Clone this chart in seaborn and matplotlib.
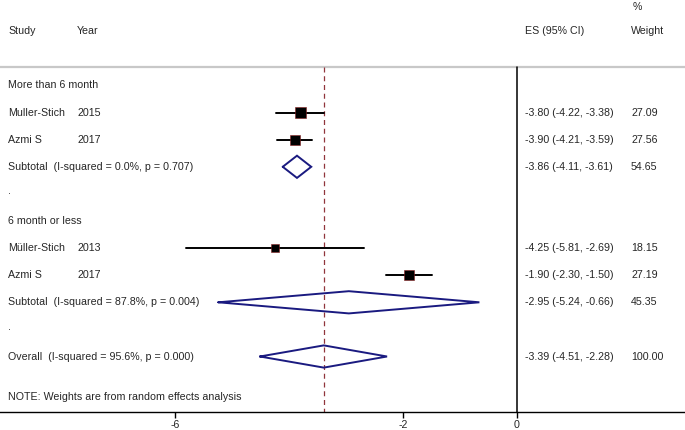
import numpy as np
import pandas as pd
import matplotlib
matplotlib.use("Agg")
import matplotlib.pyplot as plt
import matplotlib.transforms as mtransforms
import seaborn as sns

# Study-level data
study_names = ["Muller-Stich", "Azmi S", "Müller-Stich", "Azmi S"]
study_years = ["2015", "2017", "2013", "2017"]
study_es = [-3.80, -3.90, -4.25, -1.90]
study_lo = [-4.22, -4.21, -5.81, -2.30]
study_hi = [-3.38, -3.59, -2.69, -1.50]
study_weight = [27.09, 27.56, 18.15, 27.19]
study_rows = [1, 2, 6, 7]

# Pooled estimates (two subtotals + overall)
pooled_labels = ["Subtotal  (I-squared = 0.0%, p = 0.707)",
                 "Subtotal  (I-squared = 87.8%, p = 0.004)",
                 "Overall  (I-squared = 95.6%, p = 0.000)"]
pooled_es = [-3.86, -2.95, -3.39]
pooled_lo = [-4.11, -5.24, -4.51]
pooled_hi = [-3.61, -0.66, -2.28]
pooled_weight = [54.65, 45.35, 100.00]
pooled_rows = [3, 8, 10]

group_labels = ["More than 6 month", "6 month or less"]
group_rows = [0, 5]
dot_rows = [4, 9]

overall_es = -3.39
xticks = [-6, -2, 0]
note = "NOTE: Weights are from random effects analysis"

sns.set_style("white")
plt.rcParams['font.family'] = ['Liberation Sans', 'DejaVu Sans']
plt.rcParams['axes.unicode_minus'] = False
FS = 7.7

fig = plt.figure(figsize=(6.85, 4.3), dpi=100)
ax = fig.add_axes([0, 18 / 430, 1, 412 / 430])

# pixel mapping: x=0 at px 517, 57 px per unit; rows 27.1 px apart
ax.set_xlim((0 - 517) / 57, (685 - 517) / 57)
ax.set_ylim((412 - 85.5) / 27.1, (0 - 85.5) / 27.1)
line_row = (67 - 85.5) / 27.1
bottom_row = (412 - 85.5) / 27.1

navy = "#1a1a80"
maroon = "#90353b"

# header separator
ax.axhline(line_row, color="#c8c8c8", lw=1.6, zorder=1)
# null line and overall effect line
ax.plot([0, 0], [line_row, bottom_row], color="black", lw=1.1, zorder=2)
ax.plot([overall_es, overall_es], [line_row, bottom_row], color=maroon,
        lw=0.9, ls=(0, (4, 3)), zorder=2)

# confidence intervals
for lo, hi, r in zip(study_lo, study_hi, study_rows):
    ax.plot([lo, hi], [r, r], color="black", lw=1.4, zorder=3)

# weighted boxes
df = pd.DataFrame({"es": study_es, "row": study_rows, "weight": study_weight})
sns.scatterplot(data=df, x="es", y="row", size="weight",
                sizes={w: w * 2.0 for w in study_weight},
                marker="s", color="black", edgecolor="#8b2020",
                linewidth=0.4, legend=False, ax=ax, zorder=4)

# diamonds
h = 0.41
for es, lo, hi, r in zip(pooled_es, pooled_lo, pooled_hi, pooled_rows):
    ax.plot([lo, es, hi, es, lo], [r, r - h, r, r + h, r],
            color=navy, lw=1.4, zorder=4, solid_joinstyle="miter")

# text columns
tr = mtransforms.blended_transform_factory(ax.transAxes, ax.transData)
x_study, x_year, x_es, x_w = 8 / 685, 77 / 685, 525 / 685, 631 / 685
kw = dict(transform=tr, va="center", ha="left", fontsize=FS)

ax.text(x_study, -2, "Study", **kw)
ax.text(x_year, -2, "Year", **kw)
ax.text(x_es, -2, "ES (95% CI)", **kw)
ax.text(x_w, -2, "Weight", **kw)
ax.text(633 / 685, -2.9, "%", **kw)

for lab, r in zip(group_labels, group_rows):
    ax.text(x_study, r, lab, **kw)
for r in dot_rows:
    ax.text(x_study, r - 0.1, ".", **kw)

for name, yr, es, lo, hi, w, r in zip(study_names, study_years, study_es,
                                      study_lo, study_hi, study_weight, study_rows):
    ax.text(x_study, r, name, **kw)
    ax.text(x_year, r, yr, **kw)
    ax.text(x_es, r, f"{es:.2f} ({lo:.2f}, {hi:.2f})", **kw)
    ax.text(x_w, r, f"{w:.2f}", **kw)

for lab, es, lo, hi, w, r in zip(pooled_labels, pooled_es, pooled_lo,
                                 pooled_hi, pooled_weight, pooled_rows):
    ax.text(x_study, r, lab, **kw)
    ax.text(x_es, r, f"{es:.2f} ({lo:.2f}, {hi:.2f})", **kw)
    ax.text(x_w, r, f"{w:.2f}", **kw)

ax.text(x_study, 11.5, note, **kw)

# axis
for s in ["top", "left", "right"]:
    ax.spines[s].set_visible(False)
ax.spines["bottom"].set_color("black")
ax.spines["bottom"].set_linewidth(1.0)
ax.set_xticks(xticks)
ax.set_xticklabels([str(t) for t in xticks])
ax.tick_params(axis="x", direction="out", length=4, width=1.0, pad=1.5,
               labelsize=FS, bottom=True, color="black")
ax.set_yticks([])
ax.set_xlabel("")
ax.set_ylabel("")

fig.savefig("out.png", dpi=100)
